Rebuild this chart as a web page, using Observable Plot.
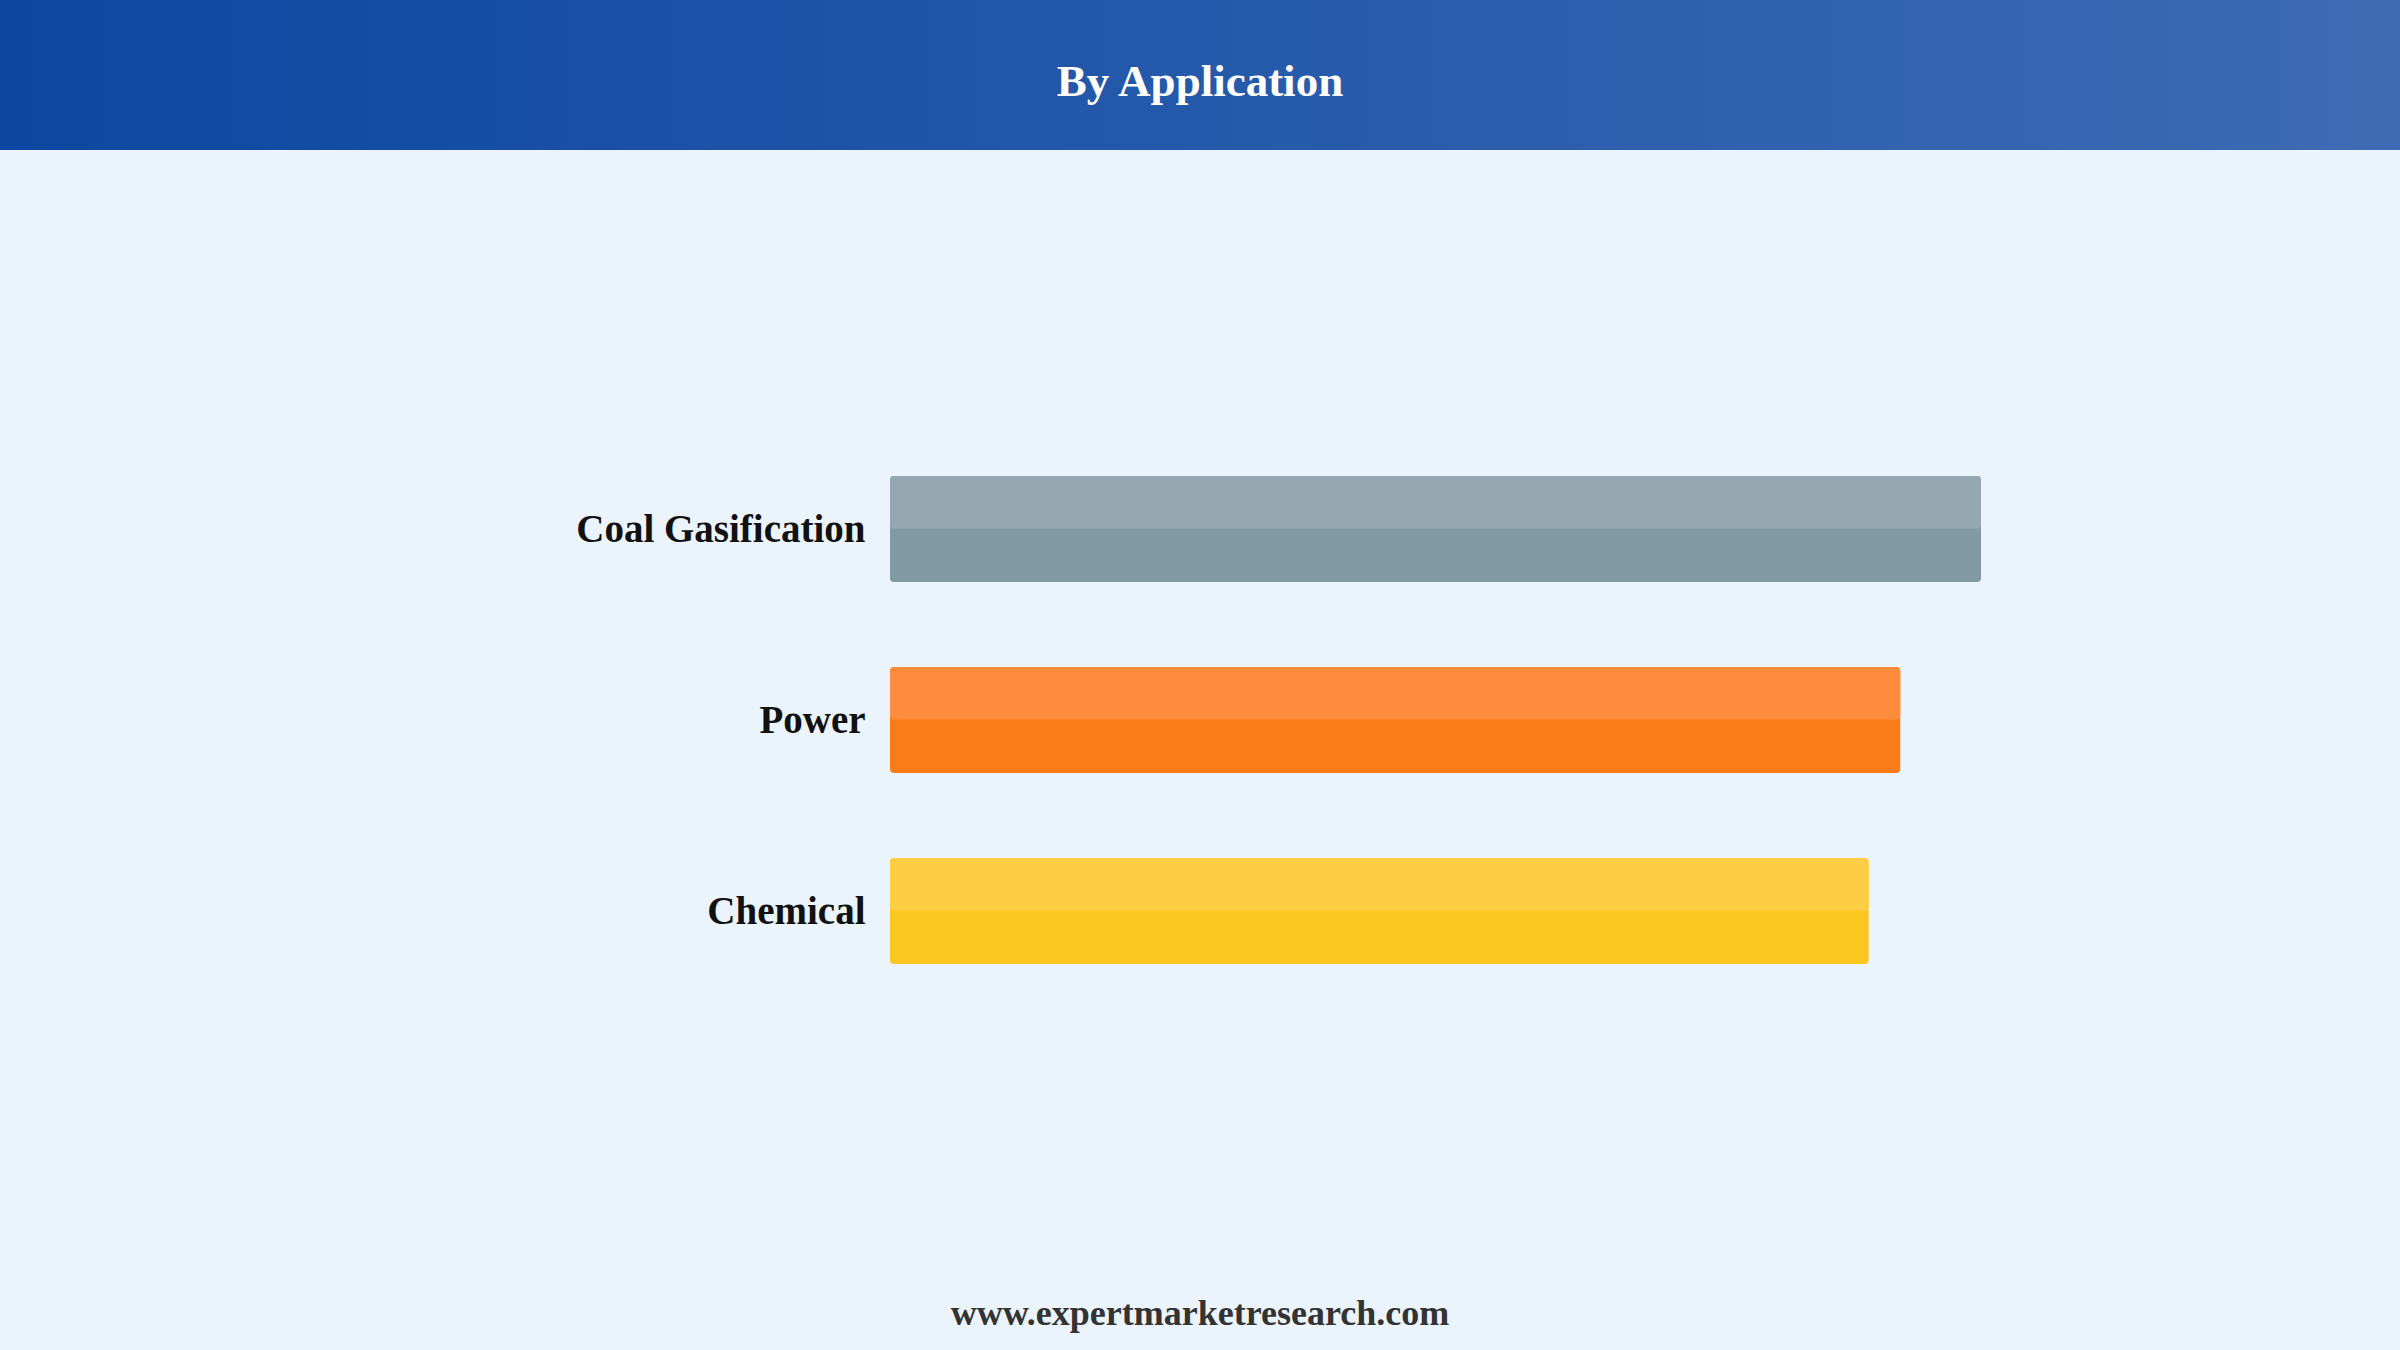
<!DOCTYPE html>
<html>
<head>
<meta charset="utf-8">
<script src="https://cdn.jsdelivr.net/npm/d3@7"></script>
<script src="https://cdn.jsdelivr.net/npm/@observablehq/plot@0.6"></script>
<style>
  html, body { margin: 0; padding: 0; background: #EBF3FC; width: 2400px; height: 1350px; overflow: hidden; }
  #header { position: relative; height: 150px; background: linear-gradient(to right, #0D47A1, #3D6BB4); }
  #title { position: absolute; left: 0; right: 0; top: 59px; text-align: center; color: #fff;
           font-family: "Liberation Serif", "Times New Roman", serif; font-weight: bold; font-size: 45px; line-height: 45px; }
  #chart svg { display: block; }
  #footer { padding-top: 46px; text-align: center; color: #333;
            font-family: "Liberation Serif", "Times New Roman", serif; font-weight: bold; font-size: 36px; line-height: 35px; }
</style>
</head>
<body>
<div id="header"><div id="title">By Application</div></div>
<div id="chart"></div>
<div id="footer">www.expertmarketresearch.com</div>
<script>
const categories = ["Coal Gasification", "Power", "Chemical"];
const values = [100, 92.6, 89.7];
const topColors = ["#95A8B1", "#FD8C3D", "#FDCE44"];
const bottomColors = ["#829AA4", "#FD7C1A", "#FCC720"];

const data = categories.map((c, i) => ({category: c, value: values[i]}));

const plot = Plot.plot({
  width: 2400,
  height: 1100,
  marginLeft: 890,
  marginRight: 419,
  marginTop: 239.5,
  marginBottom: 199.5,
  style: {background: "transparent", fontFamily: "'Liberation Serif', 'Times New Roman', serif", fontSize: "39px", fontWeight: "bold", color: "#111"},
  x: {domain: [0, 100], axis: null},
  y: {domain: categories, padding: 0.443, label: null},
  marks: [
    Plot.barX(data, {x: "value", y: "category", fill: d => bottomColors[categories.indexOf(d.category)], rx: 4}),
    Plot.barX(data, {x: "value", y: "category", fill: d => topColors[categories.indexOf(d.category)], rx: 4, insetBottom: 53.5}),
    Plot.axisY({tickSize: 0, tickPadding: 25, label: null, fontSize: 39, fontWeight: "bold", fill: "#111"})
  ]
});
document.getElementById("chart").appendChild(plot);
</script>
</body>
</html>
